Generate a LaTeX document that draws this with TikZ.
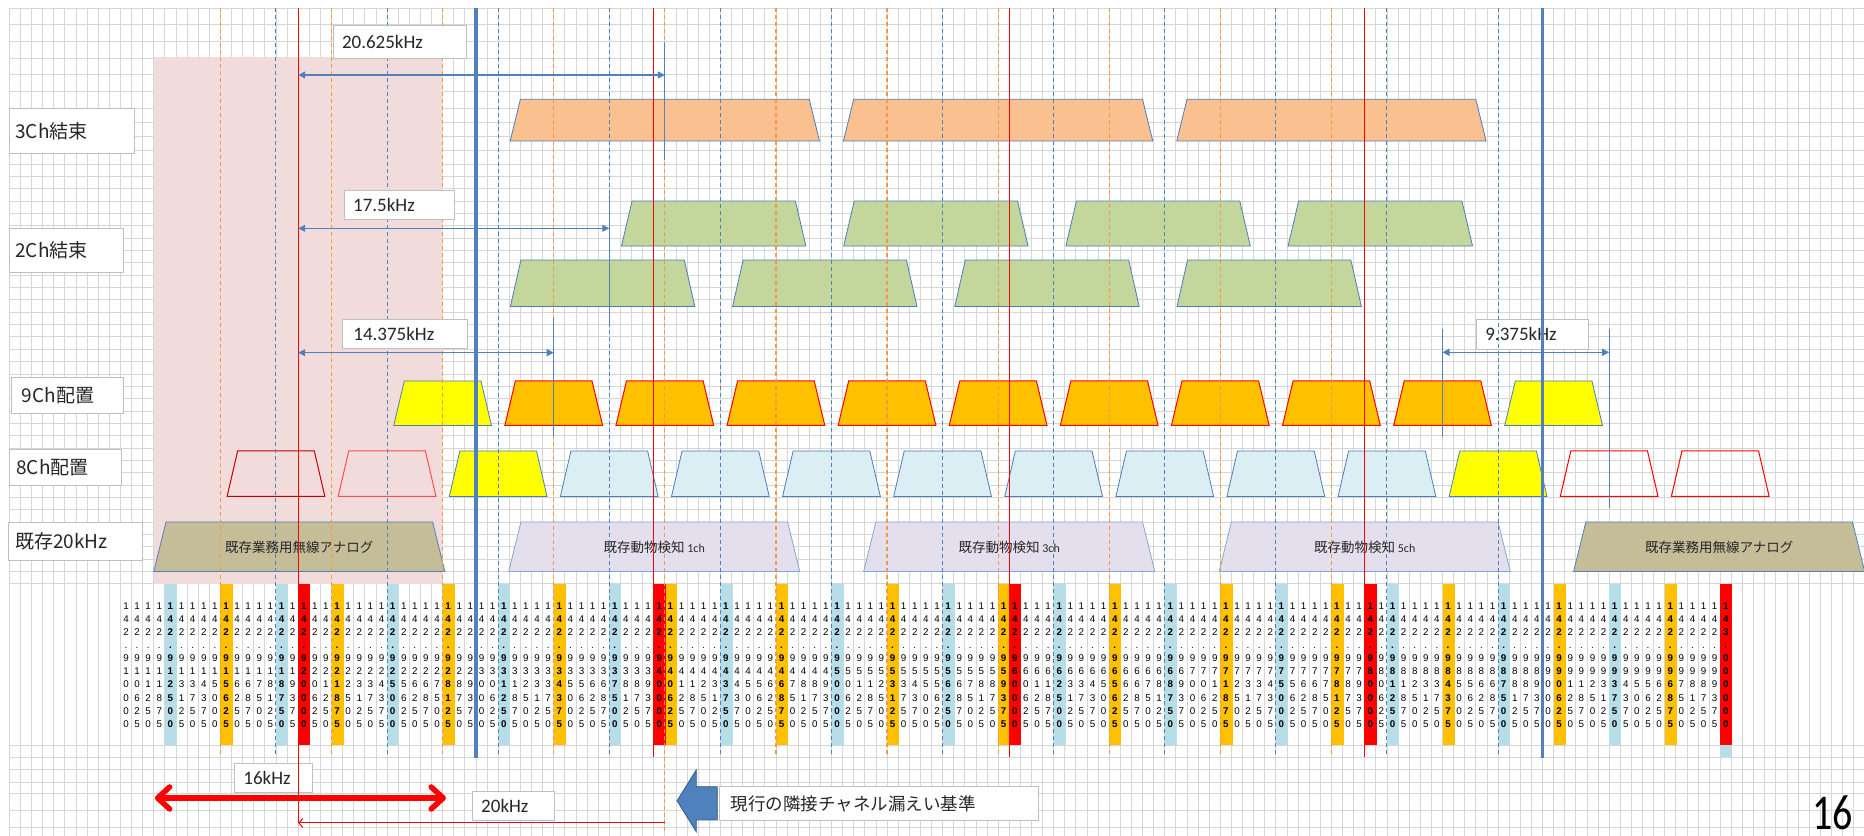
\documentclass[tikz,border=0pt]{standalone}
\usepackage{fontspec}
\usepackage{graphicx}
\setmainfont{Carlito}
\newfontfamily\jpfont{Noto Sans CJK JP}
\newfontfamily\numfont{Liberation Sans}
\usetikzlibrary{arrows.meta, positioning}

\definecolor{gridGray}{RGB}{214,214,214}
\definecolor{pinkZone}{RGB}{242,220,219}
\definecolor{lineBlue}{RGB}{79,129,189}
\definecolor{edgeBlue}{RGB}{74,126,187}
\definecolor{boxGray}{RGB}{191,191,191}
\definecolor{textDark}{RGB}{38,38,38}
\definecolor{dashOrange}{RGB}{247,150,70}
\definecolor{bandOrange}{RGB}{250,192,144}
\definecolor{bandGreen}{RGB}{195,214,155}
\definecolor{chOrange}{RGB}{255,192,0}
\definecolor{chYellow}{RGB}{255,255,0}
\definecolor{chBlue}{RGB}{219,238,244}
\definecolor{colBlue}{RGB}{183,222,232}
\definecolor{analogTan}{RGB}{196,189,151}
\definecolor{animalLilac}{RGB}{228,223,236}
\definecolor{darkRed}{RGB}{192,0,0}

% trapezoid: centre, top y, bottom y, top half width, bottom half width, style
\newcommand\trap[6]{%
  \draw[#6] ({#1-#4},#2) -- ({#1+#4},#2) -- ({#1+#5},#3) -- ({#1-#5},#3) -- cycle;}
\def\digstack#1#2#3#4#5#6#7#8#9{#1\\#2\\#3\\.\\#4\\#5\\#6\\#7\\#8\\#9}

\begin{document}
\begin{tikzpicture}[
    x=11.11pt, y=-1pt,
    gridline/.style={gridGray, line width=0.8pt},
    infobox/.style={draw=boxGray, fill=white, line width=0.8pt, anchor=north west,
      inner ysep=0pt, align=left, text=textDark},
    rowlabel/.style={infobox, font=\jpfont\fontsize{19}{22}\selectfont, inner xsep=6pt},
    khz/.style={infobox, font=\fontsize{19}{22}\selectfont, inner xsep=9pt},
    band3/.style={fill=bandOrange, draw=edgeBlue, line width=0.8pt},
    band2/.style={fill=bandGreen, draw=edgeBlue, line width=0.8pt},
    chorange/.style={fill=chOrange, draw=red, line width=1pt},
    chyellow/.style={fill=chYellow, draw=edgeBlue, line width=0.8pt},
    chblue/.style={fill=chBlue, draw=edgeBlue, line width=0.8pt},
    chempty/.style={draw=red, line width=1pt},
    analog/.style={fill=analogTan, draw=lineBlue, line width=0.8pt},
    animal/.style={fill=animalLilac, draw=lineBlue!70, line width=0.8pt},
    bandtext/.style={font=\jpfont\fontsize{13.5}{16}\selectfont, text=textDark},
    odash/.style={dashOrange, line width=1.2pt, dash pattern=on 4pt off 3pt},
    bdash/.style={lineBlue, line width=1pt, dash pattern=on 4pt off 3pt},
    redline/.style={red, line width=1pt},
    divider/.style={lineBlue, line width=3.6pt},
    dimline/.style={{Triangle[length=7pt,width=7pt]}-{Triangle[length=7pt,width=7pt]},
      lineBlue, line width=1.2pt},
    dimtick/.style={lineBlue!85!gray, line width=1.2pt},
    fatred/.style={red, line width=5.5pt,
      {Straight Barb[length=12pt,width=22pt,round]}-{Straight Barb[length=12pt,width=22pt,round]}},
    digits/.style={align=center, inner sep=0pt, text=black}
  ]
    \useasboundingbox (-11.341,0) rectangle (156.44,836);
    \fill[white] (-11.341,0) rectangle (156.44,836);

    % Background grid
    \foreach \xc in {-10.5,-9.5,...,155.5}{\draw[gridline] (\xc,8) -- (\xc,836);}
    \foreach \yc in {8,24.7,41.3,58,74.7,91.3,108,122,136,150}{\draw[gridline] (-10.5,\yc) -- (156.5,\yc);}
    \foreach \k in {0,...,34}{\draw[gridline] (-10.5,{164+12.35*\k}) -- (156.5,{164+12.35*\k});}
    \foreach \yc in {745,757,769,782,793,810,827}{\draw[gridline] (-10.5,\yc) -- (156.5,\yc);}

    % Shaded zone
    \fill[pinkZone] (2.5,57.3) rectangle (28.5,584);

    % Row labels
    \node[rowlabel, text width=113pt, minimum height=45pt] (lab3) at (-10.53,108) {3Ch結束};
    \node[rowlabel, text width=102pt, minimum height=44pt] (lab2) at (-10.53,228) {2Ch結束};
    \node[rowlabel, inner xsep=10pt, text width=91.5pt, minimum height=36pt] (lab9) at (-10.31,377) {9Ch配置};
    \node[rowlabel, inner xsep=7pt, text width=97.5pt, minimum height=36pt] (lab8) at (-10.53,449) {8Ch配置};
    \node[rowlabel, inner xsep=7pt, text width=120pt, minimum height=38.3pt] (labex) at (-10.62,521.7) {既存20kHz};

    % Frequency columns
    \foreach \i in {4,14,...,134}{\fill[colBlue] (\i-0.5,584) rectangle (\i+0.6,745.5);}
    \foreach \i in {9,19,...,139}{\fill[chOrange] (\i-0.5,584) rectangle (\i+0.6,745.5);}
    \foreach \i in {16,48,80,112,144}{\fill[red] (\i-0.5,584) rectangle (\i+0.6,745.5);}
    \fill[colBlue] (143.5,745.5) rectangle (144.6,757);
    \foreach \i in {0,...,144}{
      \pgfmathtruncatemacro\modten{mod(\i,10)}
      \pgfmathtruncatemacro\modtt{mod(\i,32)}
      \def\wt{}
      \ifnum\modten=4 \def\wt{\bfseries}\fi
      \ifnum\modten=9 \def\wt{\bfseries}\fi
      \ifnum\modtt=16 \def\wt{\bfseries}\fi
      \node[digits, font=\numfont\fontsize{9.8}{13.1}\selectfont\wt] (f\i) at (\i,665)
        {\expandafter\digstack\the\numexpr142910000+625*\i\relax};
    }

    % 3ch bonded
    \foreach \xc in {48.5,78.5,108.5}{\trap{\xc}{99.3}{141}{13}{13.92}{band3}}
    % 2ch bonded, two staggered rows
    \foreach \xc in {52.9,72.9,92.9,112.9}{\trap{\xc}{201}{246}{7.35}{8.3}{band2}}
    \foreach \xc in {42.9,62.9,82.9,102.9}{\trap{\xc}{260}{306.5}{7.35}{8.3}{band2}}
    % 9ch plan
    \foreach \xc in {38.5,48.5,...,118.5}{\trap{\xc}{381}{425.5}{3.45}{4.4}{chorange}}
    \foreach \xc in {28.5,128.5}{\trap{\xc}{381}{425.5}{3.45}{4.4}{chyellow}}
    % 8ch plan
    \trap{13.5}{451}{496.5}{3.45}{4.4}{chempty, draw=darkRed}
    \trap{23.5}{451}{496.5}{3.45}{4.4}{chempty, draw=red!70}
    \foreach \xc in {33.5,123.5}{\trap{\xc}{451}{496.5}{3.45}{4.4}{chyellow}}
    \foreach \xc in {43.5,53.5,...,113.5}{\trap{\xc}{451}{496.5}{3.45}{4.4}{chblue}}
    \foreach \xc in {133.5,143.5}{\trap{\xc}{451}{496.5}{3.45}{4.4}{chempty}}
    % existing 20kHz users
    \trap{15.6}{522}{571.5}{12}{13.1}{analog}
    \trap{143.4}{522}{571.5}{12}{13.1}{analog}
    \foreach \xc in {47.55,79.5,111.5}{\trap{\xc}{522}{571.5}{12}{13.1}{animal}}
    \node[bandtext] (ana1) at (15.6,547) {既存業務用無線アナログ};
    \node[bandtext] (ana2) at (143.4,547) {既存業務用無線アナログ};
    \node[bandtext] (det1) at (47.55,547) {既存動物検知{\rmfamily\fontsize{12}{14}\selectfont\ 1ch}};
    \node[bandtext] (det3) at (79.5,547) {既存動物検知{\rmfamily\fontsize{12}{14}\selectfont\ 3ch}};
    \node[bandtext] (det5) at (111.5,547) {既存動物検知{\rmfamily\fontsize{12}{14}\selectfont\ 5ch}};

    % Labels lying under the guides
    \node[khz, text width=94pt, minimum height=30pt] (w9375) at (121.51,319) {9.375kHz};
    \node[khz, text width=60pt, minimum height=29pt] (w16) at (9.72,762.7) {16kHz};

    % Guides
    \foreach \xc in {8.5,18.5,...,108.5}{\draw[odash] (\xc,8) -- (\xc,757);}
    \draw[odash] (48.5,757) -- (48.5,833);
    \foreach \xc in {13.5,23.5,...,123.5}{\draw[bdash] (\xc,8) -- (\xc,757);}
    \draw[redline] (15.5,8) -- (15.5,823);
    \foreach \xc in {47.5,79.5,111.5}{\draw[redline] (\xc,8) -- (\xc,757);}

    % Spacing dimensions
    \coordinate (ref1) at (15.5,75);    \coordinate (end1) at (48.5,75);
    \coordinate (ref2) at (15.5,228.3); \coordinate (end2) at (43.5,228.3);
    \coordinate (ref3) at (15.5,352.7); \coordinate (end3) at (38.5,352.7);
    \coordinate (ref4) at (118.5,352.3); \coordinate (end4) at (133.5,352.3);
    \draw[dimtick] (48.5,42) -- (48.5,160);
    \draw[dimtick] (43.5,195) -- (43.5,327);
    \draw[dimtick] (38.5,318) -- (38.5,436);
    \draw[dimtick] (118.5,329) -- (118.5,437);
    \draw[dimtick] (133.5,329) -- (133.5,508);
    \draw[dimline] (ref1) -- (end1);
    \draw[dimline] (ref2) -- (end2);
    \draw[dimline] (ref3) -- (end3);
    \draw[dimline] (ref4) -- (end4);
    \node[khz, text width=115pt, minimum height=33.3pt] (w20625) at (18.60,25) {20.625kHz};
    \node[khz, text width=92.75pt, minimum height=29pt] (w175) at (19.60,190) {17.5kHz};
    \node[khz, inner xsep=11pt, text width=103pt, minimum height=29.4pt] (w14375) at (19.44,318.6) {14.375kHz};

    % Band edges
    \foreach \xc in {31.5,127.5}{\draw[divider] (\xc,8) -- (\xc,758);}

    % Bottom: 16kHz and 20kHz spans
    \coordinate (sl) at (2.6,798);  \coordinate (sr) at (28.8,798);
    \draw[fatred] (sl) -- (sr);
    \coordinate (rs) at (48.5,823); \coordinate (re) at (15.5,823);
    \draw[redline, -{Straight Barb[length=4pt,width=9pt]}] (rs) -- (re);
    \node[khz, text width=64.2pt, minimum height=29.3pt] (w20) at (31.13,790.7) {20kHz};

    % Current rule
    \draw[fill=lineBlue, draw=edgeBlue!70!black, line width=0.8pt]
      (49.6,800.8) -- (51.33,770) -- (51.33,786.7) -- (53.22,786.7)
      -- (53.22,820) -- (51.33,820) -- (51.33,831.7) -- cycle;
    \node[infobox, font=\jpfont\fontsize{17.5}{20}\selectfont, inner xsep=12pt,
      text width=295pt, minimum height=34pt] (rule) at (53.34,786) {現行の隣接チャネル漏えい基準};

    % Page number
    \node[text=black] (page) at (153.6,813) {\scalebox{0.8}[1]{\fontsize{50}{50}\selectfont 16}};
\end{tikzpicture}
\end{document}
